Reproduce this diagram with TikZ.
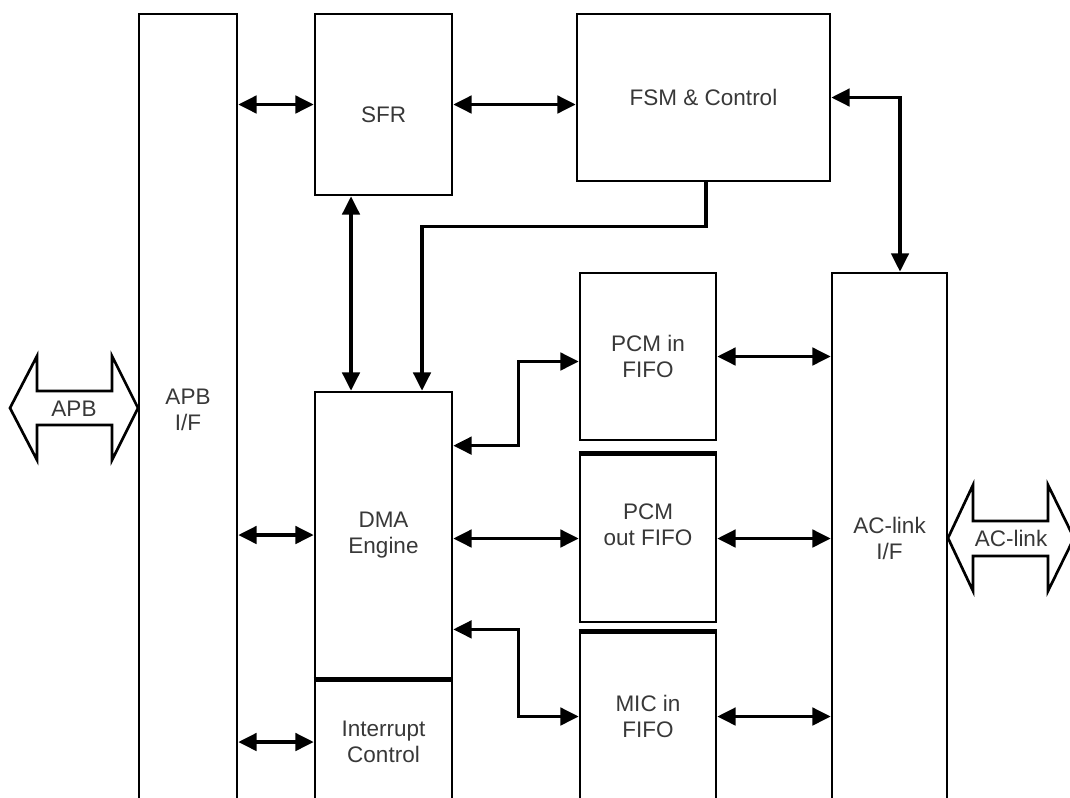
\documentclass[tikz,border=0pt]{standalone}
\usepackage{fontspec}
\setmainfont{Liberation Sans}
\usetikzlibrary{arrows.meta,positioning,calc}

\begin{document}
\begin{tikzpicture}[
  x=0.025cm,y=-0.025cm,
  box/.style={draw=black,line width=1.9pt,align=center,text=black!78,font=\fontsize{16}{18.5}\selectfont,inner sep=0pt},
  lbl/.style={align=center,text=black!78,font=\fontsize{16}{18.5}\selectfont,inner sep=0pt},
  arrow/.style={{Triangle[length=13pt,width=12.5pt]}-{Triangle[length=13pt,width=12.5pt]},line width=2.2pt,color=black},
  onearrow/.style={-{Triangle[length=13pt,width=12.5pt]},line width=2.2pt,color=black},
  bus/.style={draw=black,line width=1.9pt,line join=miter},
  sep/.style={line width=3.5pt}
]
\useasboundingbox (0,0) rectangle (1070,797);
\clip (0,0) rectangle (1070,797);
% blocks
\node[box,minimum width=2.45cm,minimum height=19.8cm] (apbif) at (188,410) {APB\\I/F};
\node[box,minimum width=3.425cm,minimum height=4.525cm,label={[lbl,yshift=-0.25cm]center:SFR}] (sfr) at (383.5,104.5) {};
\node[box,minimum width=6.325cm,minimum height=4.175cm] (fsm) at (703.5,97.5) {FSM \& Control};
\node[box,minimum width=3.425cm,minimum height=7.15cm] (dma) at (383.5,535) {DMA\\Engine};
\node[box,minimum width=3.425cm,minimum height=3.2cm] (intc) at (383.5,742) {Interrupt\\Control};
\node[box,minimum width=3.4cm,minimum height=4.175cm] (pcmin) at (648,356.5) {PCM in\\FIFO};
\node[box,minimum width=3.4cm,minimum height=4.175cm,label={[lbl,yshift=0.35cm]center:PCM\\out FIFO}] (pcmout) at (648,538.5) {};
\node[box,minimum width=3.4cm,minimum height=4.175cm] (micin) at (648,716.5) {MIC in\\FIFO};
\node[box,minimum width=2.875cm,minimum height=13.25cm] (aclink) at (889.5,538) {AC-link\\I/F};
\draw[sep] (dma.south west) -- (dma.south east);
\draw[sep] (pcmout.north west) -- (pcmout.north east);
\draw[sep] (micin.north west) -- (micin.north east);

% bus arrows
\draw[bus] (10,408) -- (37,356) -- (37,391) -- (112,391) -- (112,356) -- (138,408)
  -- (112,460) -- (112,425) -- (37,425) -- (37,460) -- cycle;
\node[lbl] (apbbus) at (74,409) {APB};
\draw[bus] (948,538) -- (973,485) -- (973,521) -- (1048,521) -- (1048,485) -- (1074,538)
  -- (1048,591) -- (1048,556) -- (973,556) -- (973,591) -- cycle;
\node[lbl] (aclinkbus) at (1011,538) {AC-link};

% connections
\draw[arrow] (apbif.east |- sfr.west) -- (sfr.west);
\draw[arrow] (sfr.east) -- (sfr.east -| fsm.west);
\draw[arrow] (fsm.east) -| ($(aclink.north)+(10.5,0)$);
\draw[arrow] ($(sfr.south)+(-32.5,0)$) -- ($(dma.north)+(-32.5,0)$);
\draw[onearrow] ($(fsm.south)+(2.5,0)$) -- ++(0,44) -| ($(dma.north)+(38.5,0)$);
\draw[arrow] (apbif.east |- dma.west) -- (dma.west);
\draw[arrow] (apbif.east |- intc.west) -- (intc.west);
\draw[arrow] ($(dma.north east)+(0,55)$) -- ++(65,0) |- ($(pcmin.west)+(0,5)$);
\draw[arrow] (dma.east |- pcmout.west) -- (pcmout.west);
\draw[arrow] ($(dma.south east)+(0,-50)$) -- ++(65,0) |- (micin.west);
\draw[arrow] (pcmin.east) -- (pcmin.east -| aclink.west);
\draw[arrow] (pcmout.east) -- (pcmout.east -| aclink.west);
\draw[arrow] (micin.east) -- (micin.east -| aclink.west);
\end{tikzpicture}
\end{document}
